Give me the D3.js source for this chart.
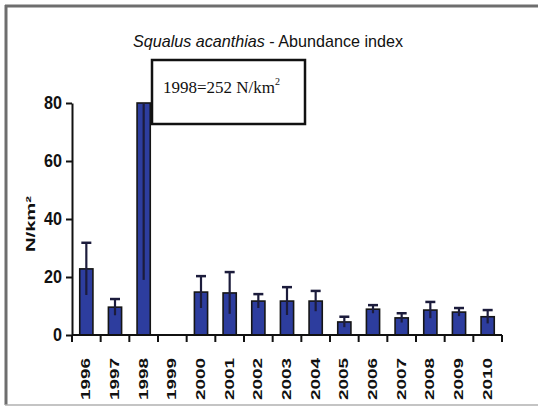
<!DOCTYPE html>
<html><head><meta charset="utf-8">
<script src="https://cdn.jsdelivr.net/npm/d3@7"></script>
<style>body{margin:0;background:#fff}svg{display:block}</style>
</head><body>
<script>
const years = ["1996","1997","1998","1999","2000","2001","2002","2003","2004","2005","2006","2007","2008","2009","2010"];
const values = [22.8, 9.6, 252, null, 14.8, 14.5, 11.7, 11.7, 11.7, 4.5, 8.9, 5.9, 8.6, 7.9, 6.3];
const errors = [9.0, 2.8, 233, null, 5.5, 7.2, 2.4, 4.8, 3.5, 1.8, 1.4, 1.6, 2.8, 1.4, 2.3];
const yTicks = [0, 20, 40, 60, 80];
const titleItalic = "Squalus acanthias";
const titleRest = " - Abundance index";
const noteText = "1998=252 N/km";
const yLabel = "N/km²";

const W = 538, H = 407;
const svg = d3.select("body").append("svg").attr("width", W).attr("height", H);

// frame
svg.append("line").attr("x1",5).attr("x2",W).attr("y1",6).attr("y2",6).attr("stroke","#6e6e6e").attr("stroke-width",3);
svg.append("line").attr("x1",6).attr("x2",6).attr("y1",5).attr("y2",405).attr("stroke","#6e6e6e").attr("stroke-width",3);
svg.append("line").attr("x1",5).attr("x2",W).attr("y1",405).attr("y2",405).attr("stroke","#b0b0b0").attr("stroke-width",1.5);

const x = d3.scaleBand().domain(years).range([72, 502]).paddingInner(0).paddingOuter(0);
const y = d3.scaleLinear().domain([0, 80]).range([335, 103]);
const ymax = 80;
const bw = x.bandwidth() * 0.46;

// title
const t = svg.append("text").attr("x", 133).attr("y", 47)
  .attr("font-family", "Liberation Sans, Arial, sans-serif").attr("font-size", 17)
  .attr("textLength", 270).attr("lengthAdjust", "spacingAndGlyphs").attr("fill","#111");
t.append("tspan").attr("font-style", "italic").text(titleItalic);
t.append("tspan").text(titleRest);

// annotation box
svg.append("rect").attr("x", 152).attr("y", 60).attr("width", 153).attr("height", 64)
  .attr("fill", "#fff").attr("stroke", "#111").attr("stroke-width", 2.5);
const nt = svg.append("text").attr("x", 163).attr("y", 93)
  .attr("font-family", "Liberation Serif, Times New Roman, serif").attr("font-size", 17).attr("fill","#111");
nt.append("tspan").text(noteText);
nt.append("tspan").attr("font-size", 10).attr("dy", -8).text("2");

// bars
const g = svg.append("g");
years.forEach((yr, i) => {
  const v = values[i];
  if (v == null) return;
  const cx = x(yr) + x.bandwidth() / 2;
  const top = y(Math.min(v, ymax));
  g.append("rect").attr("x", cx - bw/2).attr("y", top).attr("width", bw).attr("height", y(0) - top)
    .attr("fill", "#2d3d9e").attr("stroke", "#151515").attr("stroke-width", 1.6);
  const e = errors[i];
  const lo = v - e, hi = v + e;
  const yhi = y(Math.min(hi, ymax)), ylo = y(Math.max(lo, 0));
  g.append("line").attr("x1", cx).attr("x2", cx).attr("y1", ylo).attr("y2", yhi)
    .attr("stroke", "#1c1c3c").attr("stroke-width", 2.2);
  if (hi <= ymax) {
    g.append("line").attr("x1", cx - 5).attr("x2", cx + 5).attr("y1", yhi).attr("y2", yhi)
      .attr("stroke", "#1c1c3c").attr("stroke-width", 2.5);
  }
});

// y axis
const ya = svg.append("g").attr("transform", "translate(72,0)")
  .call(d3.axisLeft(y).tickValues(yTicks).tickSize(6).tickPadding(4).tickSizeOuter(0));
ya.select(".domain").attr("stroke", "#111").attr("stroke-width", 2);
ya.selectAll(".tick line").attr("stroke", "#111").attr("stroke-width", 2);
ya.selectAll(".tick text").attr("font-family", "Liberation Sans, Arial, sans-serif")
  .attr("font-weight", "bold").attr("font-size", 18).attr("fill", "#111")
  .attr("textLength", function(d){ return String(d).length === 1 ? 9 : 18; })
  .attr("lengthAdjust", "spacingAndGlyphs");

// x axis
const xa = svg.append("g").attr("transform", "translate(0,335)");
xa.append("line").attr("x1", 72).attr("x2", 502).attr("y1", 0).attr("y2", 0).attr("stroke", "#111").attr("stroke-width", 2);
const bounds = years.map(d => x(d)).concat([x.range()[1]]);
xa.selectAll("line.tk").data(bounds).enter().append("line").attr("class","tk")
  .attr("x1", d => d).attr("x2", d => d).attr("y1", 0).attr("y2", 7).attr("stroke", "#111").attr("stroke-width", 2);
xa.selectAll("text.lb").data(years).enter().append("text").attr("class","lb")
  .attr("transform", d => `translate(${x(d) + x.bandwidth()/2 + 4},${358 - 335}) rotate(-90)`)
  .attr("text-anchor", "end")
  .attr("font-family", "Liberation Sans, Arial, sans-serif").attr("font-weight", "bold").attr("font-size", 12)
  .attr("textLength", 42).attr("lengthAdjust", "spacingAndGlyphs").attr("fill", "#111")
  .text(d => d);

// y label
svg.append("text").attr("transform", "translate(35,224) rotate(-90)").attr("text-anchor", "middle")
  .attr("font-family", "Liberation Sans, Arial, sans-serif").attr("font-weight", "bold").attr("font-size", 12)
  .attr("textLength", 56).attr("lengthAdjust", "spacingAndGlyphs").attr("fill", "#111")
  .text(yLabel);
</script>
</body></html>
